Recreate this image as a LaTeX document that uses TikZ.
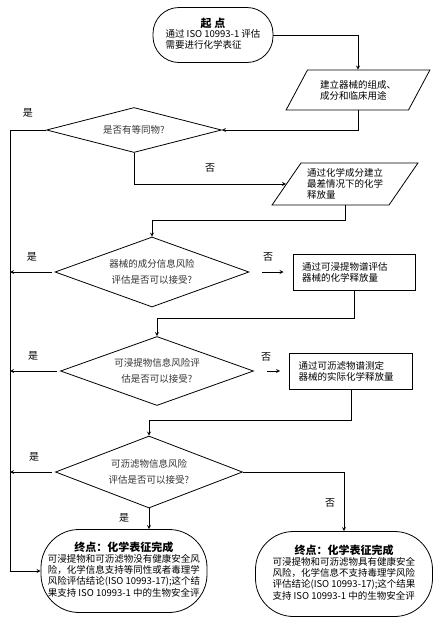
\documentclass[tikz,border=0pt]{standalone}
\usepackage{fontspec}
\setmainfont{Noto Sans CJK SC}
\usetikzlibrary{shapes.geometric}

\begin{document}
\begin{tikzpicture}
  [x=1pt,y=-1pt,>=stealth,line width=.8pt,
   every node/.style={font=\fontsize{9.5}{11}\selectfont,inner sep=0pt},
   term/.style={draw,rectangle,align=center,rounded corners=#1},
   para/.style={draw,trapezium,trapezium left angle=51,trapezium right angle=129,
     trapezium stretches=true,align=left},
   ask/.style={draw,diamond,aspect=#1,align=center,text=black!80},
   proc/.style={draw,rectangle,align=left},
   lbl/.style={font=\fontsize{10}{12}\selectfont}]

  \useasboundingbox (0,0) rectangle (446,622);

  \node[term=26pt,minimum width=120pt,minimum height=55pt] (start) at (213,35)
    {{\fontsize{11}{12}\selectfont\bfseries 起\ 点}\\
     \begin{tabular}{@{}l@{}}通过 ISO 10993-1 评估\\需要进行化学表征\end{tabular}};
  \node[para,minimum width=144pt,minimum height=40pt] (compo) at (358,90)
    {建立器械的组成、\\成分和临床用途};
  \node[ask=3.9,minimum width=175pt,minimum height=45pt] (equiv) at (134,130)
    {是否有等同物?};
  \node[para,minimum width=146pt,minimum height=42pt] (worst) at (345,184)
    {通过化学成分建立\\最差情况下的化学\\释放量};
  \node[ask=2.8,minimum width=194pt,minimum height=70pt] (riskc) at (152,272)
    {器械的成分信息风险\\[5pt]评估是否可以接受?};
  \node[proc,text width=104pt,minimum height=36pt,inner xsep=9pt] (extr) at (354,272)
    {通过可浸提物谱评估\\器械的化学释放量\\[6pt]};
  \node[ask=2.8,minimum width=193pt,minimum height=69pt] (riske) at (157,371)
    {可浸提物信息风险评\\[5pt]估是否可以接受?};
  \node[proc,text width=105pt,minimum height=36pt,inner xsep=9pt] (leach) at (351,371)
    {通过可沥滤物谱测定\\器械的实际化学释放量\\[6pt]};
  \node[ask=2.6,minimum width=187pt,minimum height=72pt] (riskl) at (149,472)
    {可沥滤物信息风险\\[5pt]评估是否可以接受?};
  \node[term=38pt,minimum width=166pt,minimum height=83pt] (endA) at (124,571)
    {{\fontsize{11}{12}\selectfont\bfseries 终点：化学表征完成}\\
     \begin{tabular}{@{}l@{}}可浸提物和可沥滤物没有健康安全风\\险，化学信息支持等同性或者毒理学\\
       风险评估结论(ISO 10993-17);这个结\\果支持 ISO 10993-1 中的生物安全评\end{tabular}};
  \node[term=38pt,minimum width=177pt,minimum height=85pt] (endB) at (344,574)
    {{\fontsize{11}{12}\selectfont\bfseries 终点：化学表征完成}\\
     \begin{tabular}{@{}l@{}}可浸提物和可沥滤物具有健康安全\\风险，化学信息不支持毒理学风险\\
       评估结论(ISO 10993-17);这个结果\\支持 ISO 10993-1 中的生物安全评\end{tabular}};

  \coordinate (rail) at (10,130);

  \node[lbl] (y1) at (28,113) {是};
  \node[lbl] (n1) at (210,168) {否};
  \node[lbl] (y2) at (32,257) {是};
  \node[lbl] (n2) at (268,257) {否};
  \node[lbl] (y3) at (33,356) {是};
  \node[lbl] (n3) at (266,357) {否};
  \node[lbl] (y4) at (34,457) {是};
  \node[lbl] (n4) at (330,503) {否};
  \node[lbl] (y5) at (124,518) {是};

  \draw[->] (start.east) -| (compo);
  \draw[->] (compo) |- (equiv.east);
  \draw[->] (equiv.south) |- (worst);
  \draw[->] (worst.south) -- ++(0,15) -| (riskc.north);
  \draw[->] (extr.south) -- ++(0,28) -| (riske.north);
  \draw[->] (leach.south) -- ++(0,31) -| (riskl.north);
  \draw[->] (equiv.west) -- (rail) |- (endA.west);

  \foreach \d in {riskc,riske,riskl}
    \draw[->] ([xshift=-3pt]\d.west) -- (\d.west -| rail);
  \foreach \from/\to in {riskc/extr,riske/leach}
    \draw[->,shorten <=13pt,shorten >=9pt] (\from.east) -- (\to.west);

  \draw[->] (riskl.east) -| (endB.north);
  \draw[->] (riskl.south) -- (riskl.south |- endA.north);
\end{tikzpicture}
\end{document}
